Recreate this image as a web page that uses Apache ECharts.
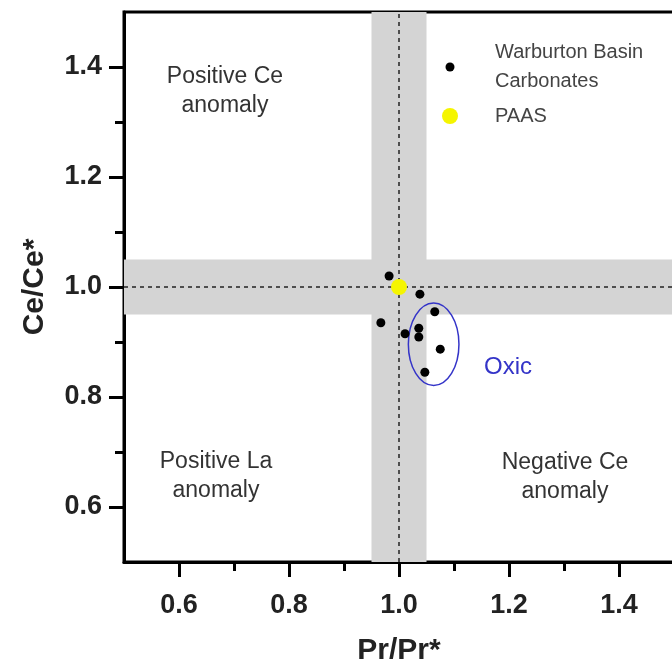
<!DOCTYPE html>
<html>
<head>
<meta charset="utf-8">
<script src="https://cdn.jsdelivr.net/npm/echarts@6/dist/echarts.min.js"></script>
<style>
html,body{margin:0;padding:0;background:#fff;}
#chart{width:672px;height:664px;}
</style>
</head>
<body>
<div id="chart"></div>
<script>
// Warburton Basin carbonates (Pr/Pr*, Ce/Ce*)
var prX = [0.982, 1.038, 1.065, 0.967, 1.011, 1.036, 1.036, 1.075, 1.047];
var ceY = [1.020, 0.987, 0.955, 0.935, 0.915, 0.925, 0.909, 0.887, 0.845];
var paas = [1.0, 1.0];

var xTicks = [0.6, 0.8, 1.0, 1.2, 1.4];
var xMinor = [0.7, 0.9, 1.1, 1.3];
var yTicks = [0.6, 0.8, 1.0, 1.2, 1.4];
var yMinor = [0.7, 0.9, 1.1, 1.3];

var band = [0.95, 1.05];
var oxic = [1.063, 0.896, 0.046, 0.075]; // centre x, centre y, half width, half height

var myChart = echarts.init(document.getElementById('chart'));

var pts = [];
for (var i = 0; i < prX.length; i++) {
    pts.push([prX[i], ceY[i]]);
}

var font = '"Liberation Sans", Arial, sans-serif';

function majorAxis(ticks, name, gap, margin) {
    return {
        type: 'value',
        min: 0.5,
        max: 1.5,
        name: name,
        nameLocation: 'middle',
        nameGap: gap,
        nameTextStyle: {color: '#222', fontSize: 30, fontWeight: 'bold', fontFamily: font},
        axisLine: {show: true, lineStyle: {color: '#000', width: 3}},
        axisTick: {show: true, inside: false, length: 15, customValues: ticks, lineStyle: {color: '#000', width: 3}},
        axisLabel: {
            show: true, customValues: ticks, margin: margin,
            color: '#222', fontSize: 27, fontWeight: 'bold', fontFamily: font,
            formatter: function (v) { return v.toFixed(1); }
        },
        splitLine: {show: false}
    };
}

function minorAxis(ticks, pos) {
    return {
        type: 'value',
        min: 0.5,
        max: 1.5,
        position: pos,
        axisLine: {show: false},
        axisTick: {show: true, inside: false, length: 9, customValues: ticks, lineStyle: {color: '#000', width: 3}},
        axisLabel: {show: false},
        splitLine: {show: false}
    };
}

var xMain = majorAxis(xTicks, 'Pr/Pr*', 74, 30);
xMain.position = 'bottom';
var yMain = majorAxis(yTicks, 'Ce/Ce*', 74, 22);
yMain.position = 'left';

var option = {
    animation: false,
    backgroundColor: '#fff',
    grid: {
        left: 124, top: 12, width: 550, height: 550,
        show: true, borderColor: '#000', borderWidth: 3,
        containLabel: false,
        outerBoundsMode: 'none'
    },
    xAxis: [xMain, minorAxis(xMinor, 'bottom')],
    yAxis: [yMain, minorAxis(yMinor, 'left')],
    graphic: [
        {type: 'text', z: 20, style: {text: 'Positive Ce\nanomaly', x: 225, y: 91, align: 'center', verticalAlign: 'middle',
            fontSize: 23, lineHeight: 29, fontFamily: font, fill: '#333'}},
        {type: 'text', z: 20, style: {text: 'Positive La\nanomaly', x: 216, y: 476, align: 'center', verticalAlign: 'middle',
            fontSize: 23, lineHeight: 29, fontFamily: font, fill: '#333'}},
        {type: 'text', z: 20, style: {text: 'Negative Ce\nanomaly', x: 565, y: 477, align: 'center', verticalAlign: 'middle',
            fontSize: 23, lineHeight: 29, fontFamily: font, fill: '#333'}},
        {type: 'text', z: 20, style: {text: 'Oxic', x: 508, y: 367, align: 'center', verticalAlign: 'middle',
            fontSize: 24, fontFamily: font, fill: '#3434c8'}},
        // legend
        {type: 'circle', z: 20, shape: {cx: 450, cy: 67, r: 4.5}, style: {fill: '#000'}},
        {type: 'text', z: 20, style: {text: 'Warburton Basin\nCarbonates', x: 495, y: 67, align: 'left', verticalAlign: 'middle',
            fontSize: 20, lineHeight: 29, fontFamily: font, fill: '#444'}},
        {type: 'circle', z: 20, shape: {cx: 450, cy: 116, r: 8}, style: {fill: '#f5f500'}},
        {type: 'text', z: 20, style: {text: 'PAAS', x: 495, y: 116, align: 'left', verticalAlign: 'middle',
            fontSize: 20, fontFamily: font, fill: '#444'}}
    ],
    series: [
        {
            name: 'bands',
            type: 'scatter',
            z: 1,
            data: [],
            silent: true,
            markArea: {
                silent: true,
                itemStyle: {color: '#d4d4d4'},
                data: [
                    [{xAxis: band[0]}, {xAxis: band[1]}],
                    [{yAxis: band[0]}, {yAxis: band[1]}]
                ]
            }
        },
        {
            name: 'ref',
            type: 'scatter',
            z: 2,
            data: [],
            silent: true,
            markLine: {
                silent: true,
                symbol: ['none', 'none'],
                label: {show: false},
                lineStyle: {color: '#222', width: 1.5, type: [4, 4]},
                data: [{xAxis: paas[0]}, {yAxis: paas[1]}]
            }
        },
        {
            name: 'Oxic',
            type: 'custom',
            z: 3,
            silent: true,
            data: [oxic],
            renderItem: function (params, api) {
                var c = api.coord([api.value(0), api.value(1)]);
                var s = api.size([api.value(2), api.value(3)]);
                return {
                    type: 'ellipse',
                    shape: {cx: c[0], cy: c[1], rx: s[0], ry: s[1]},
                    style: {fill: 'none', stroke: '#3434c8', lineWidth: 1.5}
                };
            }
        },
        {
            name: 'Warburton Basin Carbonates',
            type: 'scatter',
            z: 5,
            symbol: 'circle',
            symbolSize: 9,
            itemStyle: {color: '#000', opacity: 1},
            data: pts
        },
        {
            name: 'PAAS',
            type: 'scatter',
            z: 6,
            symbol: 'circle',
            symbolSize: 16,
            itemStyle: {color: '#f5f500', opacity: 1},
            data: [paas]
        }
    ]
};

myChart.setOption(option);
</script>
</body>
</html>
